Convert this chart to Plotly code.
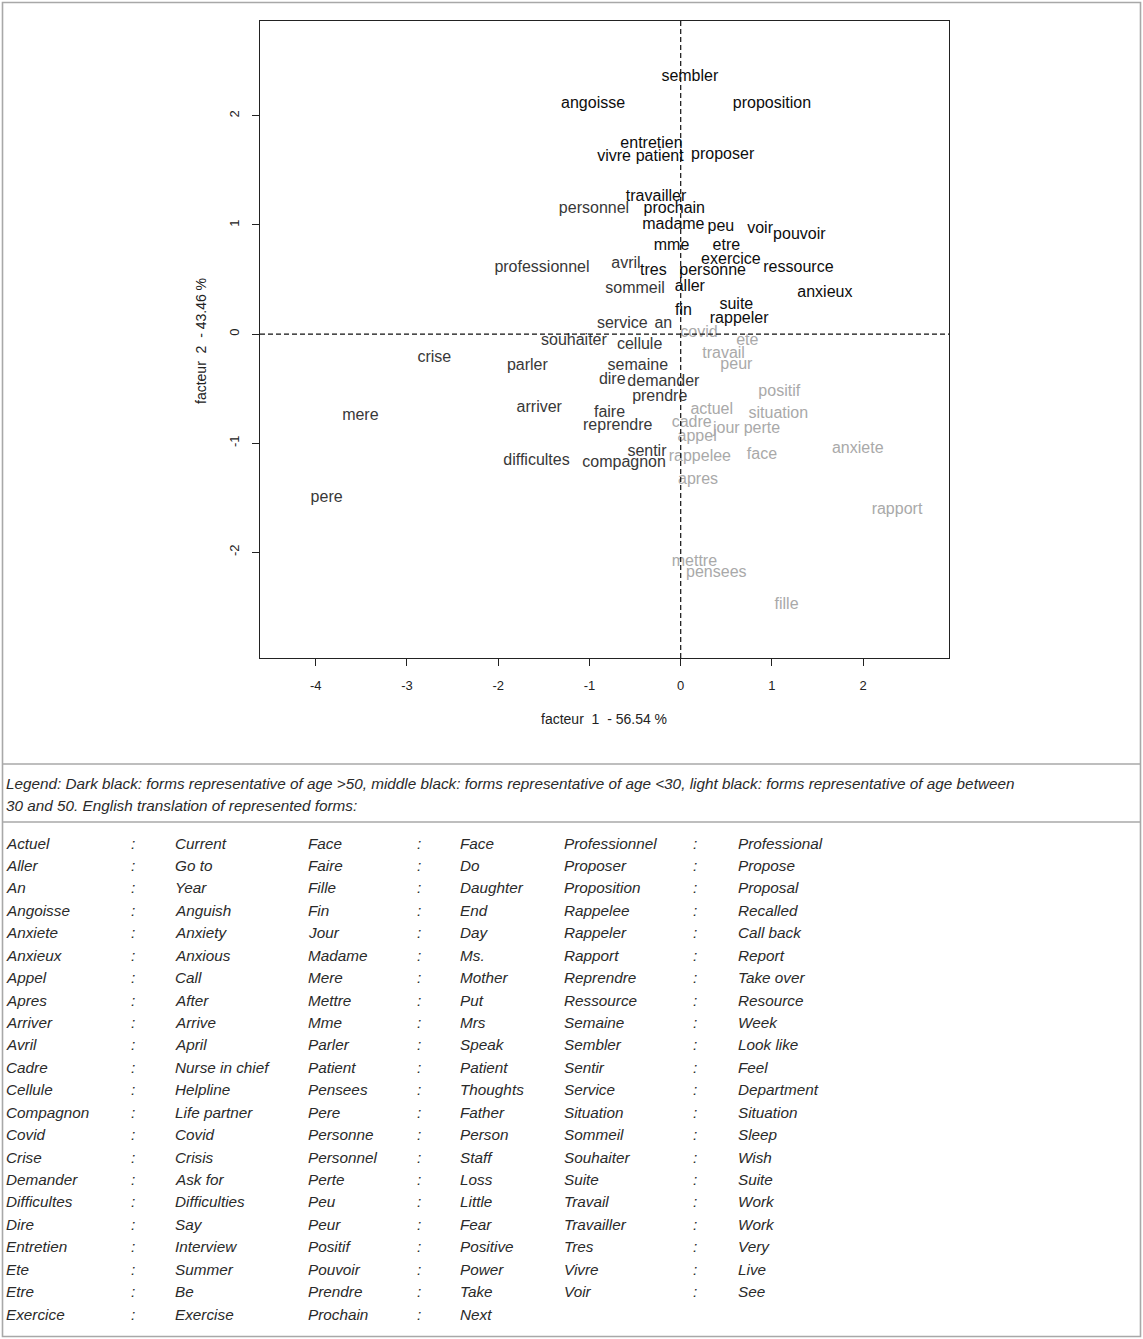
import plotly.graph_objects as go

# ---------------- data ----------------
dark_words = ["sembler", "angoisse", "proposition", "entretien", "vivre", "patient", "proposer",
              "travailler", "prochain", "madame", "peu", "voir", "pouvoir", "mme", "etre",
              "exercice", "tres", "personne", "ressource", "aller", "anxieux", "suite", "fin",
              "rappeler"]
dark_x = [0.10, -0.96, 1.00, -0.32, -0.73, -0.23, 0.46,
          -0.27, -0.07, -0.08, 0.44, 0.87, 1.30, -0.10, 0.50,
          0.55, -0.30, 0.35, 1.29, 0.10, 1.58, 0.61, 0.03,
          0.64]
dark_y = [2.36, 2.11, 2.11, 1.74, 1.62, 1.62, 1.64,
          1.26, 1.15, 1.00, 0.98, 0.96, 0.91, 0.81, 0.81,
          0.68, 0.58, 0.58, 0.61, 0.43, 0.38, 0.27, 0.21,
          0.14]

mid_words = ["personnel", "professionnel", "avril", "sommeil", "service", "an", "souhaiter",
             "cellule", "crise", "parler", "semaine", "dire", "demander", "prendre", "arriver",
             "faire", "mere", "reprendre", "sentir", "difficultes", "compagnon", "pere"]
mid_x = [-0.95, -1.52, -0.60, -0.50, -0.64, -0.19, -1.17,
         -0.45, -2.70, -1.68, -0.47, -0.75, -0.19, -0.23, -1.55,
         -0.78, -3.51, -0.69, -0.37, -1.58, -0.62, -3.88]
mid_y = [1.15, 0.61, 0.64, 0.41, 0.09, 0.09, -0.06,
         -0.10, -0.22, -0.29, -0.29, -0.42, -0.44, -0.58, -0.68,
         -0.72, -0.75, -0.84, -1.08, -1.16, -1.18, -1.50]

light_words = ["covid", "ete", "travail", "peur", "positif", "actuel", "situation", "cadre",
               "jour", "perte", "appel", "anxiete", "rappelee", "face", "apres", "rapport",
               "mettre", "pensees", "fille"]
light_x = [0.20, 0.73, 0.47, 0.61, 1.08, 0.34, 1.07, 0.12,
           0.50, 0.89, 0.18, 1.94, 0.21, 0.89, 0.19, 2.37,
           0.15, 0.39, 1.16]
light_y = [0.01, -0.06, -0.18, -0.28, -0.53, -0.70, -0.73, -0.82,
           -0.87, -0.87, -0.94, -1.05, -1.13, -1.11, -1.34, -1.61,
           -2.09, -2.19, -2.48]

x_ticks = [-4, -3, -2, -1, 0, 1, 2]
y_ticks = [-2, -1, 0, 1, 2]
x_title = "facteur  1  - 56.54 %"
y_title = "facteur  2  - 43.46 %"

legend_line1 = ("Legend: Dark black: forms representative of age >50, middle black: forms "
                "representative of age <30, light black: forms representative of age between")
legend_line2 = "30 and 50. English translation of represented forms:"

col1_fr = ["Actuel", "Aller", "An", "Angoisse", "Anxiete", "Anxieux", "Appel", "Apres", "Arriver",
           "Avril", "Cadre", "Cellule", "Compagnon", "Covid", "Crise", "Demander", "Difficultes",
           "Dire", "Entretien", "Ete", "Etre", "Exercice"]
col1_en = ["Current", "Go to", "Year", "Anguish", "Anxiety", "Anxious", "Call", "After", "Arrive",
           "April", "Nurse in chief", "Helpline", "Life partner", "Covid", "Crisis", "Ask for",
           "Difficulties", "Say", "Interview", "Summer", "Be", "Exercise"]
col2_fr = ["Face", "Faire", "Fille", "Fin", "Jour", "Madame", "Mere", "Mettre", "Mme", "Parler",
           "Patient", "Pensees", "Pere", "Personne", "Personnel", "Perte", "Peu", "Peur", "Positif",
           "Pouvoir", "Prendre", "Prochain"]
col2_en = ["Face", "Do", "Daughter", "End", "Day", "Ms.", "Mother", "Put", "Mrs", "Speak",
           "Patient", "Thoughts", "Father", "Person", "Staff", "Loss", "Little", "Fear", "Positive",
           "Power", "Take", "Next"]
col3_fr = ["Professionnel", "Proposer", "Proposition", "Rappelee", "Rappeler", "Rapport",
           "Reprendre", "Ressource", "Semaine", "Sembler", "Sentir", "Service", "Situation",
           "Sommeil", "Souhaiter", "Suite", "Travail", "Travailler", "Tres", "Vivre", "Voir"]
col3_en = ["Professional", "Propose", "Proposal", "Recalled", "Call back", "Report", "Take over",
           "Resource", "Week", "Look like", "Feel", "Department", "Situation", "Sleep", "Wish",
           "Suite", "Work", "Work", "Very", "Live", "See"]

# ---------------- layout geometry (pixels) ----------------
W, H = 1143, 1339
PL, PR, PT, PB = 260, 949, 21, 658


def px(x):
    return (x - PL) / (PR - PL)


def py(y):
    return (PB - y) / (PB - PT)


FONT = "Liberation Sans, Arial, sans-serif"

fig = go.Figure()
for words, xs, ys, col in [(dark_words, dark_x, dark_y, "#0d0d0d"),
                           (mid_words, mid_x, mid_y, "#383838"),
                           (light_words, light_x, light_y, "#a9a9a9")]:
    fig.add_trace(go.Scatter(x=xs, y=ys, text=words, mode="text",
                             textposition="middle center",
                             textfont=dict(family=FONT, size=16, color=col),
                             hoverinfo="text", showlegend=False))

# dashed reference lines
fig.add_shape(type="line", xref="x", yref="paper", x0=0, x1=0, y0=0, y1=1,
              line=dict(color="#111", width=1.2, dash="5px,3px"))
fig.add_shape(type="line", xref="paper", yref="y", x0=0, x1=1, y0=0, y1=0,
              line=dict(color="#111", width=1.2, dash="5px,3px"))

ann = []
# axis titles
ann.append(dict(x=px(604), y=py(719), xref="paper", yref="paper", text=x_title,
                showarrow=False, font=dict(family=FONT, size=14, color="#222"),
                xanchor="center", yanchor="middle"))
ann.append(dict(x=px(201), y=py(341), xref="paper", yref="paper", text=y_title,
                showarrow=False, textangle=-90, font=dict(family=FONT, size=14, color="#222"),
                xanchor="center", yanchor="middle"))

TFONT = dict(family=FONT, size=15.3, color="#2a2a2a")
ann.append(dict(x=px(4), y=py(783), xref="paper", yref="paper", text="<i>" + legend_line1 + "</i>",
                showarrow=False, font=TFONT, xanchor="left", yanchor="middle"))
ann.append(dict(x=px(4), y=py(805), xref="paper", yref="paper", text="<i>" + legend_line2 + "</i>",
                showarrow=False, font=TFONT, xanchor="left", yanchor="middle"))

row0, dy = 843, 22.43
for fr, en, (xa, xb, xc) in [(col1_fr, col1_en, (4, 129, 173)),
                              (col2_fr, col2_en, (306, 415, 458)),
                              (col3_fr, col3_en, (562, 691, 736))]:
    for i, (a, b) in enumerate(zip(fr, en)):
        yy = py(row0 + i * dy)
        for xpos, t in [(xa, a), (xb, ":"), (xc, b)]:
            ann.append(dict(x=px(xpos), y=yy, xref="paper", yref="paper", text="<i>" + t + "</i>",
                            showarrow=False, font=TFONT, xanchor="left", yanchor="middle"))

# frame lines around figure / table
GC = "#a8a8a8"
fig.add_shape(type="rect", xref="paper", yref="paper", x0=px(2.5), x1=px(1140.5),
              y0=py(1336.5), y1=py(2.5), line=dict(color=GC, width=1.6))
for yl in [764, 822]:
    fig.add_shape(type="line", xref="paper", yref="paper", x0=px(2.5), x1=px(1140.5),
                  y0=py(yl), y1=py(yl), line=dict(color=GC, width=1.6))

fig.update_layout(
    width=W, height=H,
    margin=dict(l=PL, r=W - PR, t=PT, b=H - PB, pad=0),
    paper_bgcolor="white", plot_bgcolor="white",
    annotations=ann,
    xaxis=dict(range=[-4.61, 2.94], tickvals=x_ticks, ticktext=[str(v) for v in x_ticks],
               showgrid=False, zeroline=False, showline=True, mirror=True,
               linecolor="#222", linewidth=1, ticks="outside", ticklen=7, tickcolor="#222",
               tickfont=dict(family=FONT, size=13, color="#222"), ticklabelstandoff=8),
    yaxis=dict(range=[-2.97, 2.87], tickvals=y_ticks, ticktext=[str(v) for v in y_ticks],
               showgrid=False, zeroline=False, showline=True, mirror=True,
               linecolor="#222", linewidth=1, ticks="outside", ticklen=7, tickcolor="#222",
               tickangle=-90, tickfont=dict(family=FONT, size=13, color="#222"),
               ticklabelstandoff=8),
)

fig.write_html("out.html", config={"displayModeBar": False},
               post_script="document.body.style.margin='0';")
